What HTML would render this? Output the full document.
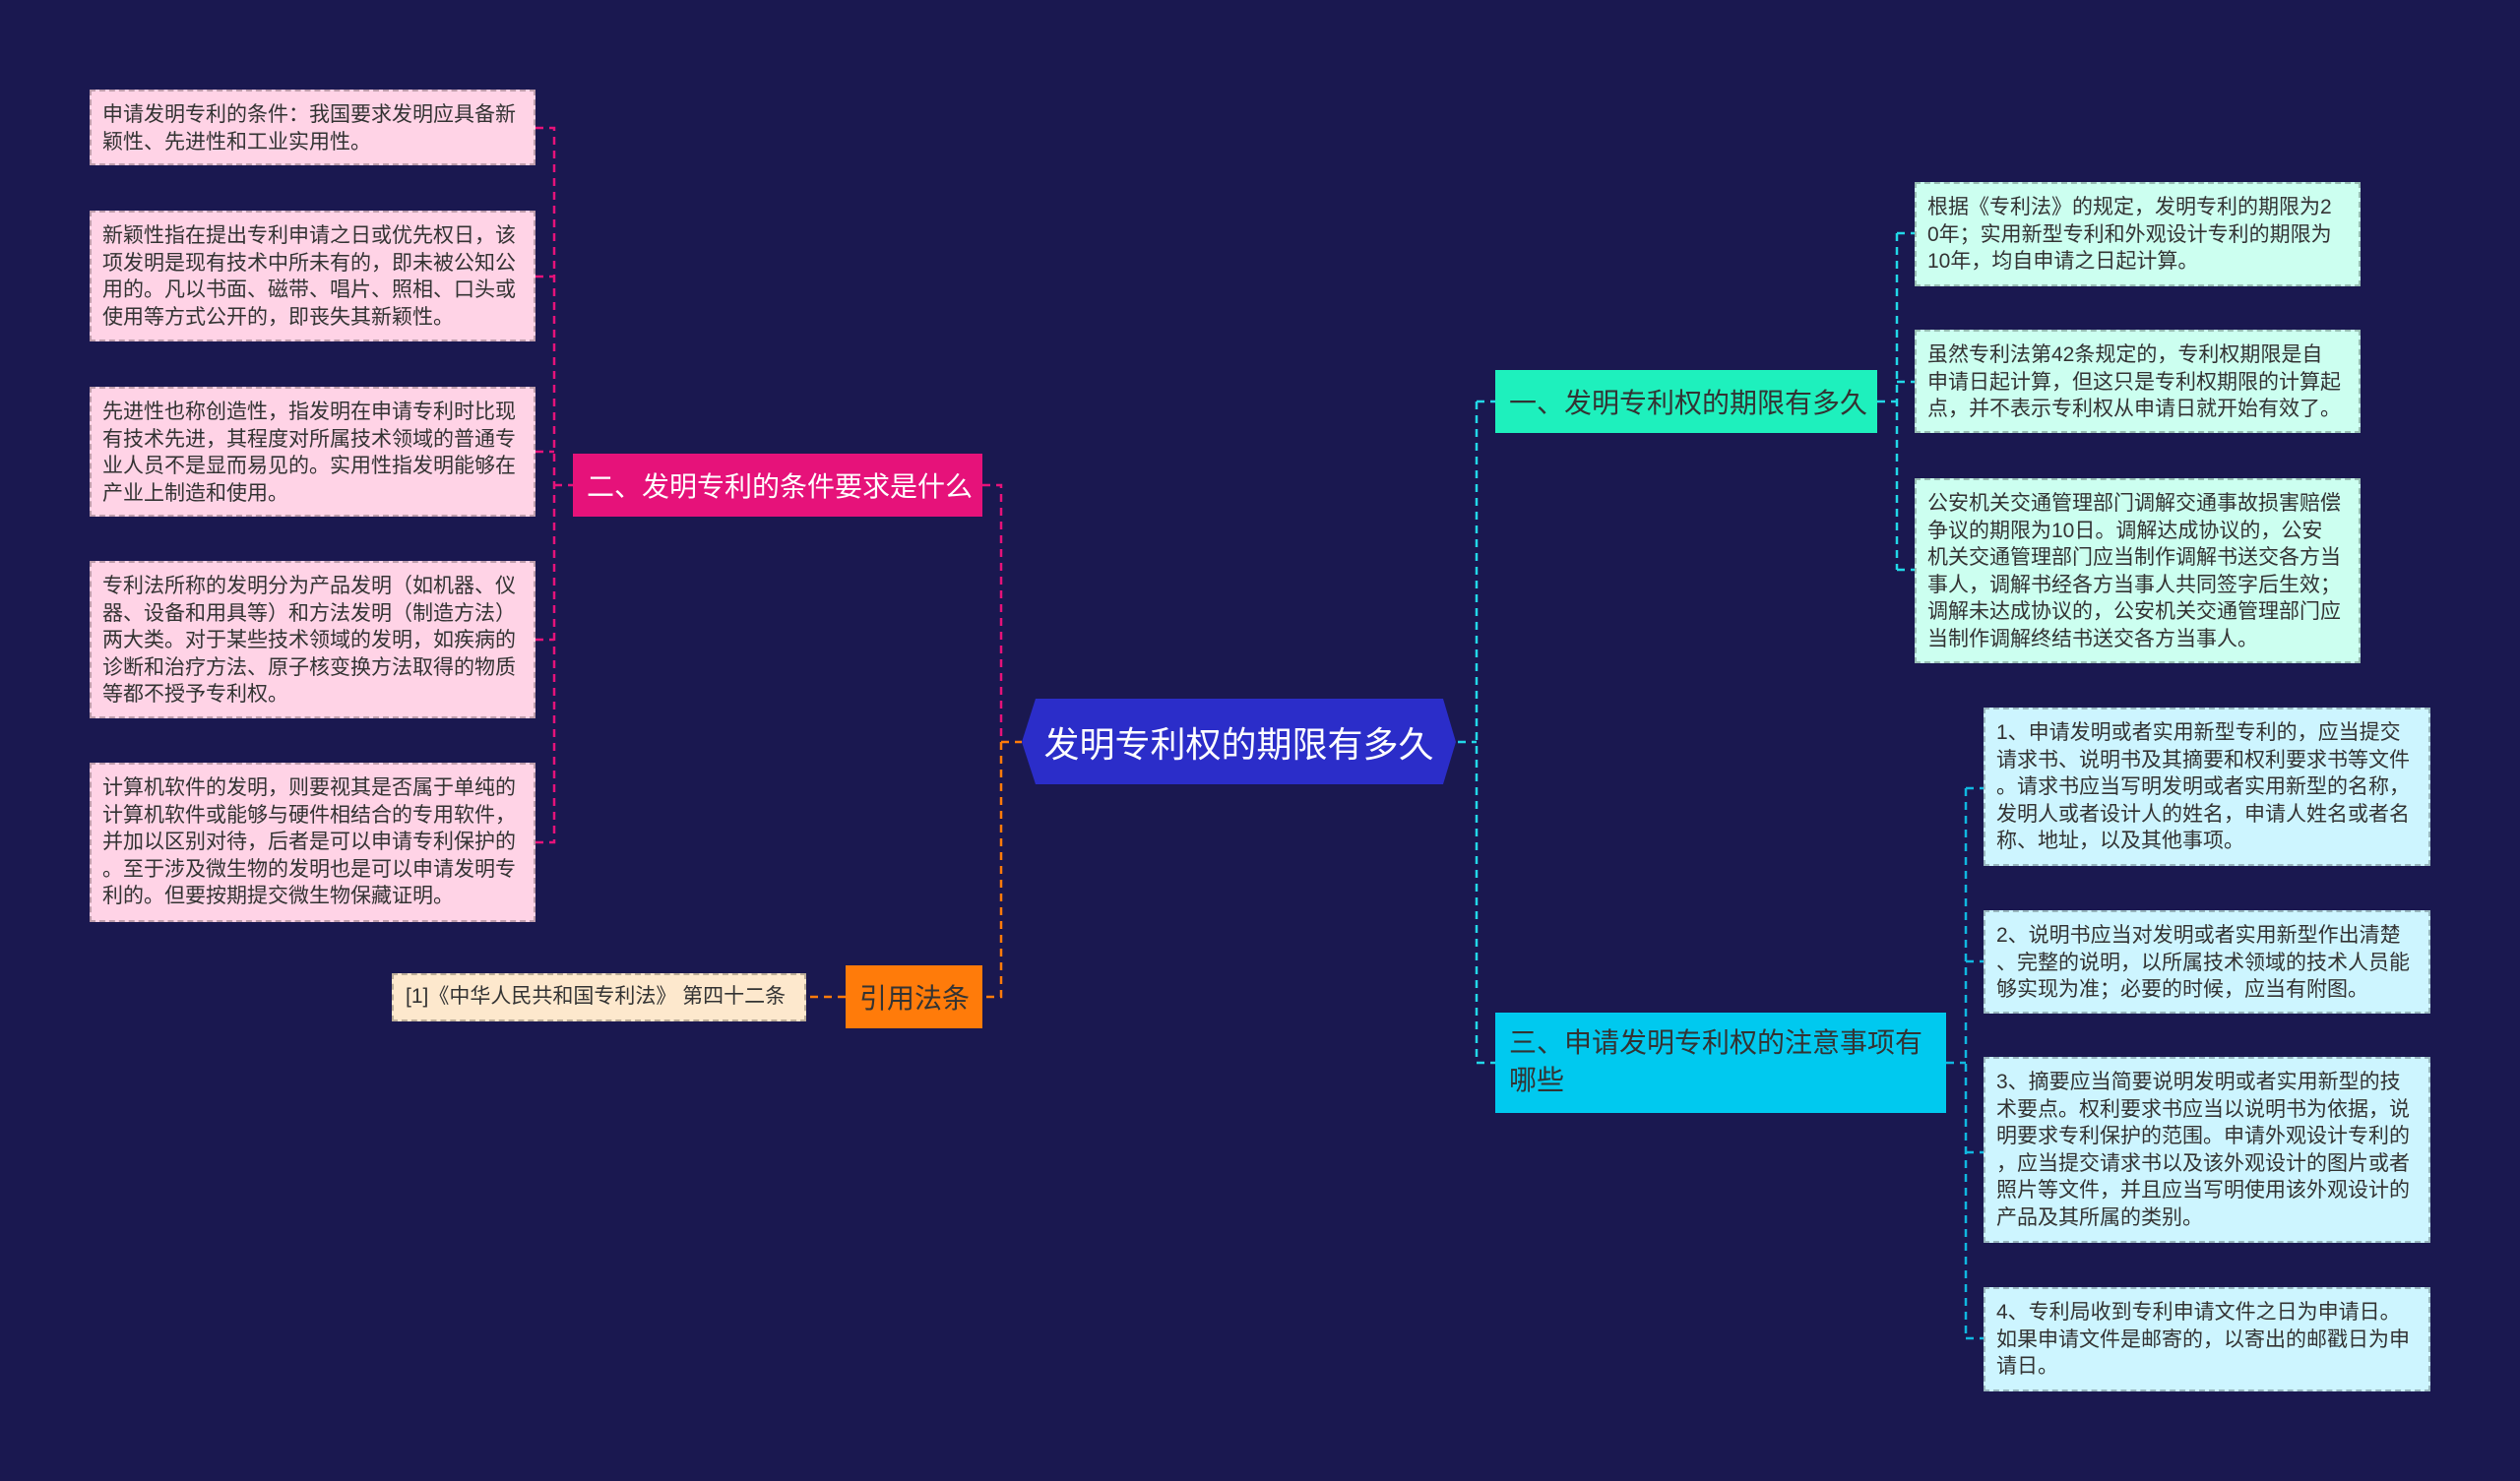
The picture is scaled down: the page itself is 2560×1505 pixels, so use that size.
<!DOCTYPE html>
<html><head><meta charset="utf-8"><style>
body{margin:0;width:2560px;height:1505px;background:#1a1850;overflow:hidden;position:relative;font-family:"Liberation Sans","Noto Sans CJK SC",sans-serif}
.b{position:absolute;box-sizing:border-box;white-space:nowrap;color:#333;font-size:21px;line-height:27.6px;padding:10px 11px;border:2px dashed rgba(0,0,0,0.25)}
.pk{background:#ffd3e6}.gr{background:#ccfff0}.cy{background:#cdf5ff}
.n{position:absolute;box-sizing:border-box;font-size:28px;white-space:nowrap;padding:0 14px;display:flex;align-items:center}
svg{position:absolute;left:0;top:0}
</style></head><body>
<svg width="2560" height="1505">
<g fill="none" stroke-width="2.5" stroke-dasharray="8,6">
<path stroke="#e6127a" d="M998 493H1017V754M544 130H563V856H544M544 281H563M544 459H563M544 650H563M563 493H582"/>
<path stroke="#ff7b0a" d="M1017 754V1013H998M1017 754H1038M859 1013H819"/>
<path stroke="#22d8e8" d="M1481 754H1500M1500 408V1080M1500 408H1519M1500 1080H1519M1907 408H1927M1927 237V579M1927 237H1945M1927 388H1945M1927 579H1945"/>
<path stroke="#10b8e0" d="M1977 1080H1997M1997 801V1360M1997 801H2015M1997 977H2015M1997 1171H2015M1997 1360H2015"/>
</g></svg>
<div class="b pk" style="left:91px;top:91px;width:453px;height:77px">申请发明专利的条件：我国要求发明应具备新<br>颖性、先进性和工业实用性。</div>
<div class="b pk" style="left:91px;top:214px;width:453px;height:133px">新颖性指在提出专利申请之日或优先权日，该<br>项发明是现有技术中所未有的，即未被公知公<br>用的。凡以书面、磁带、唱片、照相、口头或<br>使用等方式公开的，即丧失其新颖性。</div>
<div class="b pk" style="left:91px;top:393px;width:453px;height:132px">先进性也称创造性，指发明在申请专利时比现<br>有技术先进，其程度对所属技术领域的普通专<br>业人员不是显而易见的。实用性指发明能够在<br>产业上制造和使用。</div>
<div class="b pk" style="left:91px;top:570px;width:453px;height:160px">专利法所称的发明分为产品发明（如机器、仪<br>器、设备和用具等）和方法发明（制造方法）<br>两大类。对于某些技术领域的发明，如疾病的<br>诊断和治疗方法、原子核变换方法取得的物质<br>等都不授予专利权。</div>
<div class="b pk" style="left:91px;top:775px;width:453px;height:162px">计算机软件的发明，则要视其是否属于单纯的<br>计算机软件或能够与硬件相结合的专用软件，<br>并加以区别对待，后者是可以申请专利保护的<br>。至于涉及微生物的发明也是可以申请发明专<br>利的。但要按期提交微生物保藏证明。</div>
<div class="n" style="left:582px;top:461px;width:416px;height:64px;background:#e6127a;color:#fff">二、发明专利的条件要求是什么</div>
<div class="n" style="left:859px;top:981px;width:139px;height:64px;background:#ff7b0a;color:#333">引用法条</div>
<div class="b" style="left:398px;top:989px;width:421px;height:49px;background:#fde8cd;padding:8px 12px">[1]《中华人民共和国专利法》 第四十二条</div>
<svg width="2560" height="1505"><polygon points="1052,710 1466,710 1479,754 1466,797 1052,797 1038,754" fill="#2b2dc9"/></svg>
<div class="n" style="left:1038px;top:710px;width:441px;height:87px;justify-content:center;color:#fff;font-size:36px">发明专利权的期限有多久</div>
<div class="n" style="left:1519px;top:376px;width:388px;height:64px;background:#1ef0bd;color:#333">一、发明专利权的期限有多久</div>
<div class="n" style="left:1519px;top:1029px;width:458px;height:102px;background:#00c9ef;color:#333;line-height:38px;align-items:flex-start;padding-top:12px;white-space:normal">三、申请发明专利权的注意事项有哪些</div>
<div class="b gr" style="left:1945px;top:185px;width:453px;height:106px">根据《专利法》的规定，发明专利的期限为2<br>0年；实用新型专利和外观设计专利的期限为<br>10年，均自申请之日起计算。</div>
<div class="b gr" style="left:1945px;top:335px;width:453px;height:105px">虽然专利法第42条规定的，专利权期限是自<br>申请日起计算，但这只是专利权期限的计算起<br>点，并不表示专利权从申请日就开始有效了。</div>
<div class="b gr" style="left:1945px;top:486px;width:453px;height:188px">公安机关交通管理部门调解交通事故损害赔偿<br>争议的期限为10日。调解达成协议的，公安<br>机关交通管理部门应当制作调解书送交各方当<br>事人，调解书经各方当事人共同签字后生效；<br>调解未达成协议的，公安机关交通管理部门应<br>当制作调解终结书送交各方当事人。</div>
<div class="b cy" style="left:2015px;top:719px;width:454px;height:161px">1、申请发明或者实用新型专利的，应当提交<br>请求书、说明书及其摘要和权利要求书等文件<br>。请求书应当写明发明或者实用新型的名称，<br>发明人或者设计人的姓名，申请人姓名或者名<br>称、地址，以及其他事项。</div>
<div class="b cy" style="left:2015px;top:925px;width:454px;height:105px">2、说明书应当对发明或者实用新型作出清楚<br>、完整的说明，以所属技术领域的技术人员能<br>够实现为准；必要的时候，应当有附图。</div>
<div class="b cy" style="left:2015px;top:1074px;width:454px;height:189px">3、摘要应当简要说明发明或者实用新型的技<br>术要点。权利要求书应当以说明书为依据，说<br>明要求专利保护的范围。申请外观设计专利的<br>，应当提交请求书以及该外观设计的图片或者<br>照片等文件，并且应当写明使用该外观设计的<br>产品及其所属的类别。</div>
<div class="b cy" style="left:2015px;top:1308px;width:454px;height:106px">4、专利局收到专利申请文件之日为申请日。<br>如果申请文件是邮寄的，以寄出的邮戳日为申<br>请日。</div>
</body></html>
